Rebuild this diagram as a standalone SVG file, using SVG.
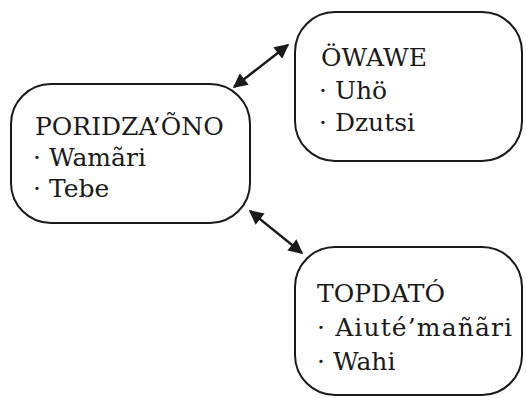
<svg xmlns="http://www.w3.org/2000/svg" width="526" height="398" viewBox="0 0 526 398">
  <defs>
    <marker id="head" viewBox="0 0 10 10" refX="9" refY="5" markerWidth="6.4" markerHeight="6" orient="auto-start-reverse" markerUnits="strokeWidth">
      <path d="M0,0 L10,5 L0,10 Z" fill="#1a1a1a"/>
    </marker>
    <style>
      .box { fill: #ffffff; stroke: #1a1a1a; stroke-width: 2; }
      .lbl { font-family: "DejaVu Serif", "Liberation Serif", serif; font-size: 25px; fill: #1a1a1a; }
      .link { stroke: #1a1a1a; stroke-width: 2.4; fill: none; marker-start: url(#head); marker-end: url(#head); }
    </style>
  </defs>
  <rect width="526" height="398" fill="#ffffff"/>

  <g id="connectors">
    <line class="link" x1="234" y1="87" x2="288" y2="45"/>
    <line class="link" x1="250" y1="211" x2="302" y2="253"/>
  </g>

  <g id="poridzaono">
    <rect class="box" x="11" y="84" width="239" height="139" rx="40" ry="40"/>
    <text class="lbl" x="35" y="135">PORIDZA’ÕNO</text>
    <text class="lbl" x="33" y="166">· Wamãri</text>
    <text class="lbl" x="33" y="197">· Tebe</text>
  </g>

  <g id="owawe">
    <rect class="box" x="295" y="12" width="227" height="149" rx="40" ry="40"/>
    <text class="lbl" x="321" y="66">ÖWAWE</text>
    <text class="lbl" x="319" y="99">· Uhö</text>
    <text class="lbl" x="319" y="131">· Dzutsi</text>
  </g>

  <g id="topdato">
    <rect class="box" x="295" y="247" width="227" height="148" rx="40" ry="40"/>
    <text class="lbl" x="317" y="302">TOPDATÓ</text>
    <text class="lbl" x="317" y="336" textLength="195">· Aiuté’mañãri</text>
    <text class="lbl" x="317" y="370">· Wahi</text>
  </g>
</svg>
